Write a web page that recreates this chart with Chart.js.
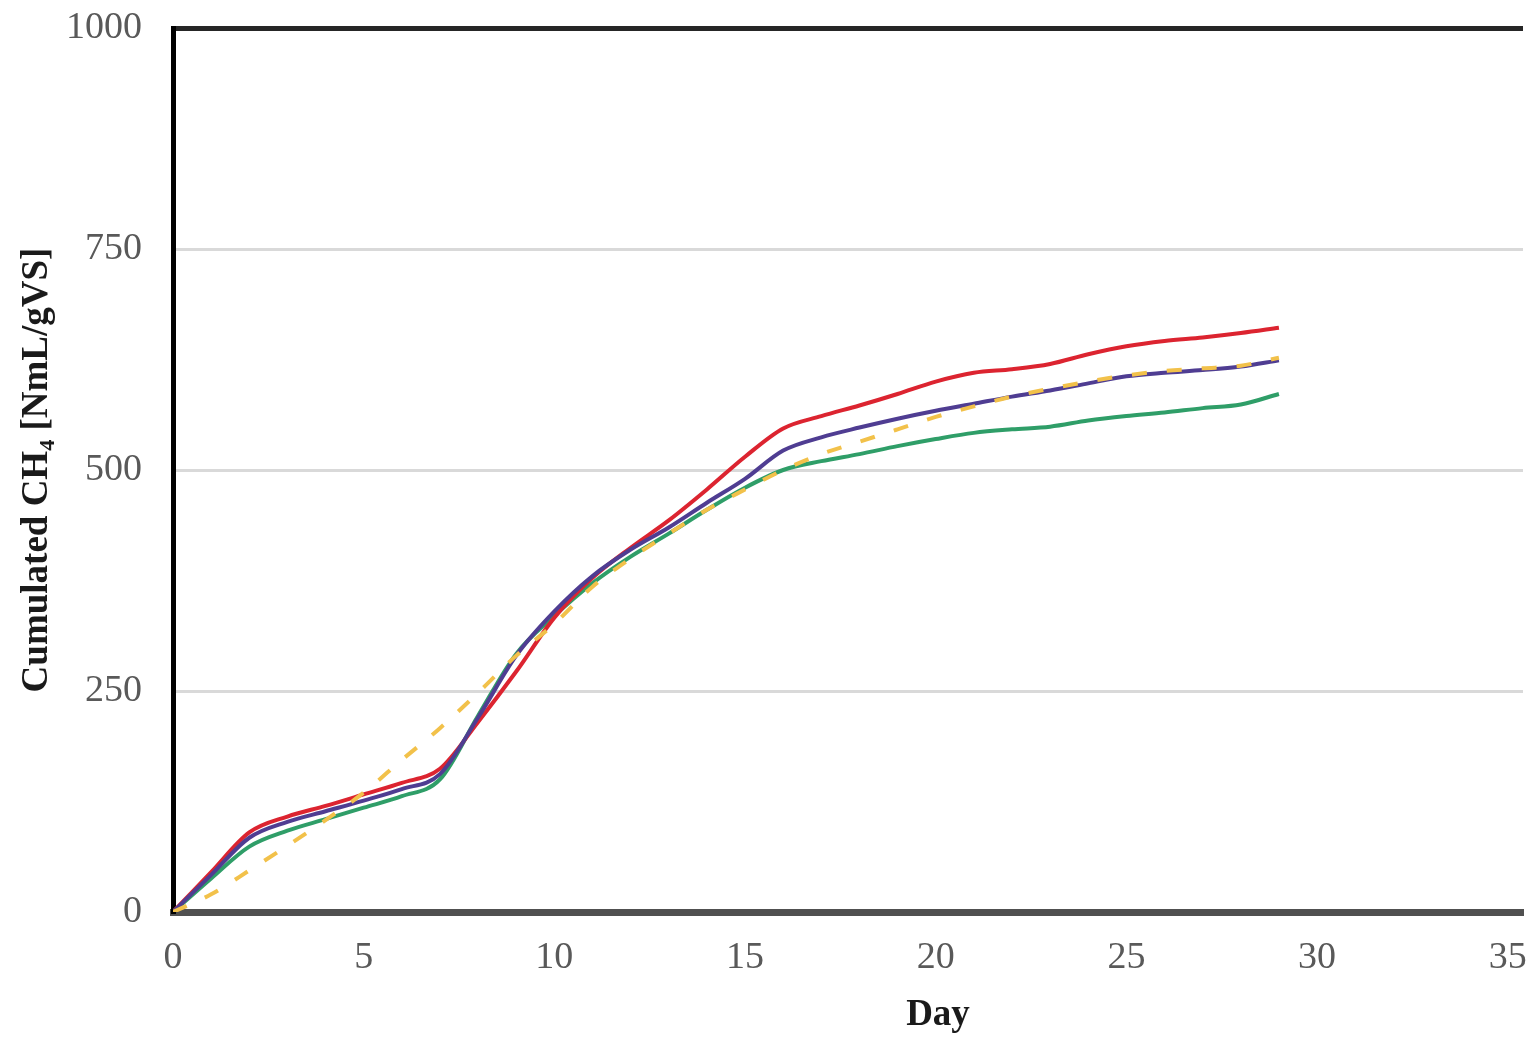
<!DOCTYPE html>
<html>
<head>
<meta charset="utf-8">
<script src="https://cdn.jsdelivr.net/npm/chart.js@4"></script>
<style>
  body { margin: 0; background: #fff; }
  #wrap { width: 1535px; height: 1041px; }
</style>
</head>
<body>
<div id="wrap"><canvas id="ch4Chart" width="1535" height="1041"></canvas></div>
<script>
// cumulated methane yield, one value per day
const days = [0, 1, 2, 3, 4, 5, 6, 7, 8, 9, 10, 11, 12, 13, 14, 15, 16, 17, 18, 19, 20, 21, 22, 23, 24, 25, 26, 27, 28, 29];

const redSeries = [0, 45, 90, 108, 120, 133, 146, 162, 215, 272, 333, 378, 412, 443, 478, 515, 547, 561, 573, 586, 600, 610, 614, 620, 631, 640, 646, 650, 655, 661];
const purpleSeries = [0, 42, 84, 102, 114, 126, 139, 156, 220, 290, 340, 380, 410, 435, 463, 490, 522, 537, 548, 558, 567, 575, 583, 590, 598, 606, 610, 613, 617, 624];
const greenSeries = [0, 38, 74, 92, 105, 118, 131, 150, 222, 292, 335, 372, 402, 428, 455, 480, 500, 510, 518, 527, 535, 542, 546, 549, 556, 561, 565, 570, 574, 586];
const yellowSeries = [0, 20, 47, 75, 104, 135, 172, 208, 248, 290, 326, 368, 400, 428, 455, 478, 500, 518, 532, 546, 560, 572, 583, 592, 600, 607, 612, 615, 618, 627];

const xTicks = [0, 5, 10, 15, 20, 25, 30, 35];
const yTicks = [0, 250, 500, 750, 1000];

function toPoints(vals) {
    return days.map((d, i) => ({ x: d, y: vals[i] }));
}

function lineSet(vals, color, dashed) {
    return {
        data: toPoints(vals),
        borderColor: color,
        borderWidth: 4,
        borderDash: dashed ? [15, 20] : [],
        pointRadius: 0,
        fill: false,
        cubicInterpolationMode: "monotone"
    };
}

const tickFont = { family: "'Liberation Serif', serif", size: 38 };
const titleFont = { family: "'Liberation Serif', serif", size: 37, weight: "bold" };

// x title sits right of the plot centre in the original, so draw it by hand
const dayTitle = {
    id: "dayTitle",
    afterDraw(chart) {
        const c = chart.ctx;
        c.save();
        c.font = "bold 37px 'Liberation Serif', serif";
        c.fillStyle = "#1a1a1a";
        c.textAlign = "center";
        c.textBaseline = "middle";
        c.fillText("Day", 938, 1015);
        c.restore();
    }
};

const ctx = document.getElementById("ch4Chart").getContext("2d");
new Chart(ctx, {
    type: "line",
    data: {
        datasets: [
            lineSet(yellowSeries, "#f2c14a", true),
            lineSet(purpleSeries, "#4f3d92", false),
            lineSet(redSeries, "#dc2430", false),
            lineSet(greenSeries, "#2f9e68", false)
        ]
    },
    plugins: [dayTitle],
    options: {
        responsive: false,
        animation: false,
        layout: { padding: { top: 28, right: 12, left: 0, bottom: 0 } },
        plugins: {
            legend: { display: false },
            tooltip: { enabled: false }
        },
        scales: {
            x: {
                type: "linear",
                min: 0,
                max: 35.4,
                afterBuildTicks: scale => {
                    scale.ticks = xTicks.map(v => ({ value: v }));
                },
                afterFit: scale => {
                    scale.height = 129;
                    scale.paddingLeft = 0;
                    scale.paddingRight = 0;
                },
                grid: { display: false },
                border: { display: true, color: "#505050", width: 7 },
                ticks: { font: tickFont, color: "#595959", padding: 15, maxRotation: 0 }
            },
            y: {
                min: 0,
                max: 1000,
                afterBuildTicks: scale => {
                    scale.ticks = yTicks.map(v => ({ value: v }));
                },
                afterFit: scale => {
                    scale.width = 173;
                    scale.paddingTop = 0;
                    scale.paddingBottom = 0;
                },
                grid: {
                    drawTicks: false,
                    color: c => c.tick && c.tick.value === 1000 ? "#262626" : "#d9d9d9",
                    lineWidth: c => c.tick && c.tick.value === 1000 ? 5 : 3
                },
                border: { display: true, color: "#000000", width: 5 },
                ticks: {
                    font: tickFont,
                    color: "#595959",
                    padding: 31,
                    callback: v => String(v)
                },
                title: {
                    display: true,
                    text: "Cumulated CH\u2084 [NmL/gVS]",
                    font: titleFont,
                    color: "#1a1a1a",
                    padding: { top: 15, bottom: 0 }
                }
            }
        }
    }
});
</script>
</body>
</html>
